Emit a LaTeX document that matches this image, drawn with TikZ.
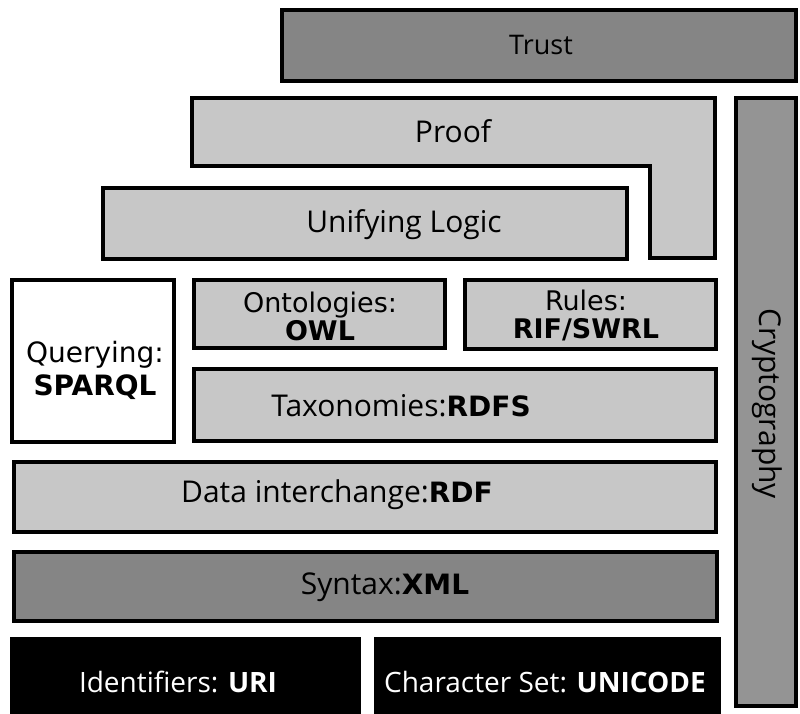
\documentclass[tikz,border=0pt]{standalone}
\usepackage{fontspec}
\newfontfamily\dv{DejaVu Sans}
\newfontfamily\os{Open Sans}
\begin{document}
\begin{tikzpicture}[x=1pt,y=-1pt,
  box/.style={draw=black,line width=4.5pt,line join=miter},
  lite/.style={box,fill=black!22},
  mid/.style={box,fill=black!42},
  dark/.style={box,fill=black!48},
  blk/.style={fill=black,draw=black,line width=4.5pt},
  hum/.style={font=\os\fontsize{30}{32}\selectfont,inner sep=0pt},
  dvt/.style={font=\dv\fontsize{27}{28}\selectfont,inner sep=0pt,align=center},
  wht/.style={font=\os\fontsize{28}{30}\selectfont,text=white,inner sep=0pt}
]
\useasboundingbox (0,0) rectangle (800,713);
% boxes
\draw[dark] (282,10) rectangle (796,81);
\draw[lite] (192,98) -- (715,98) -- (715,258) -- (650,258) -- (650,166) -- (192,166) -- cycle;
\draw[lite] (103,188) rectangle (627,259);
\draw[mid] (736,98) rectangle (796,706);
\draw[box,fill=white] (12,280) rectangle (174,442);
\draw[lite] (194,280) rectangle (445,348);
\draw[lite] (465,280) rectangle (716,349);
\draw[lite] (194,369) rectangle (716,441);
\draw[lite] (14,462) rectangle (716,532);
\draw[dark] (14,552) rectangle (717,621);
\draw[blk] (12,639) rectangle (359,716);
\draw[blk] (376,639) rectangle (719,716);
% texts
\node[hum,font=\os\fontsize{27}{30}\selectfont] (trust) at (541,45) {Trust};
\node[hum] (proof) at (453,131) {Proof};
\node[hum] (logic) at (404,225) {Unifying Logic};
\node[hum,rotate=-90] (crypto) at (767,404) {Cryptography};
\node[dvt,font=\dv\fontsize{28}{33}\selectfont] (query) at (95,370) {Querying:\\\bfseries SPARQL};
\node[dvt] (onto) at (320,316) {Ontologies:\\\bfseries OWL};
\node[dvt] (rules) at (586,315) {Rules:\\\bfseries RIF/SWRL};
\node[hum] (taxo) at (401,406) {Taxonomies:{\dv\fontsize{28}{30}\selectfont\bfseries RDFS}};
\node[hum] (data) at (337,495) {Data interchange:{\dv\fontsize{28}{30}\selectfont\bfseries RDF}};
\node[hum] (syntax) at (385,587) {Syntax:{\dv\fontsize{28}{30}\selectfont\bfseries XML}};
\node[wht] (ident) at (178,682) {Identifiers: \bfseries URI};
\node[wht] (charset) at (545,682) {Character Set: \bfseries UNICODE};
\end{tikzpicture}
\end{document}
